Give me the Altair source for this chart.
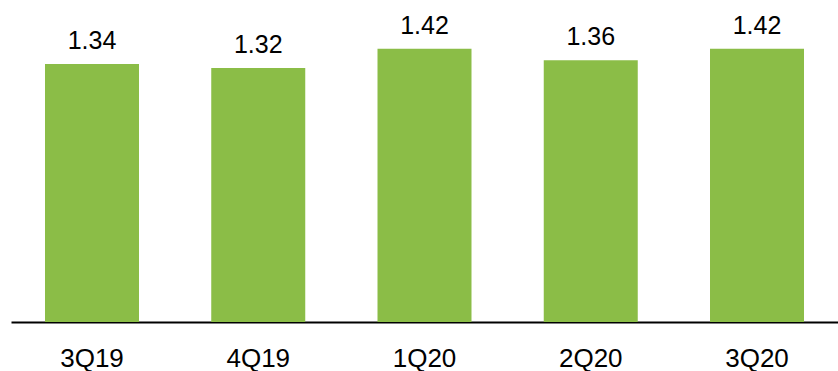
import altair as alt
import pandas as pd

quarters = ["3Q19", "4Q19", "1Q20", "2Q20", "3Q20"]
values = [1.34, 1.32, 1.42, 1.36, 1.42]
labels = ["1.34", "1.32", "1.42", "1.36", "1.42"]

df = pd.DataFrame({"q": quarters, "v": values, "lab": labels})

FONT = "Liberation Sans"

x = alt.X(
    "q:N", sort=quarters, title=None,
    scale=alt.Scale(paddingInner=0.4346, paddingOuter=0.2045),
    axis=alt.Axis(labelAngle=0, ticks=False, domainColor="black", domainWidth=2,
                  labelFont=FONT, labelFontSize=26, labelColor="black",
                  labelPadding=23, grid=False),
)
y = alt.Y("v:Q", title=None, scale=alt.Scale(domain=[0, 1.6], nice=False, zero=True), axis=None)

bars = alt.Chart(df).mark_bar(color="#8BBD47").encode(x=x, y=y)
text = alt.Chart(df).mark_text(font=FONT, fontSize=25, color="black", baseline="alphabetic", dy=-15).encode(
    x=alt.X("q:N", sort=quarters), y="v:Q", text="lab:N"
)

chart = (bars + text).properties(
    width=827, height=308,
    padding={"left": 11, "top": 14, "right": 0, "bottom": 49},
    autosize=alt.AutoSizeParams(type="none"),
).configure(background="white").configure_view(strokeWidth=0, stroke="transparent")

chart.save("out.html", embed_options={"renderer": "svg", "actions": False})
